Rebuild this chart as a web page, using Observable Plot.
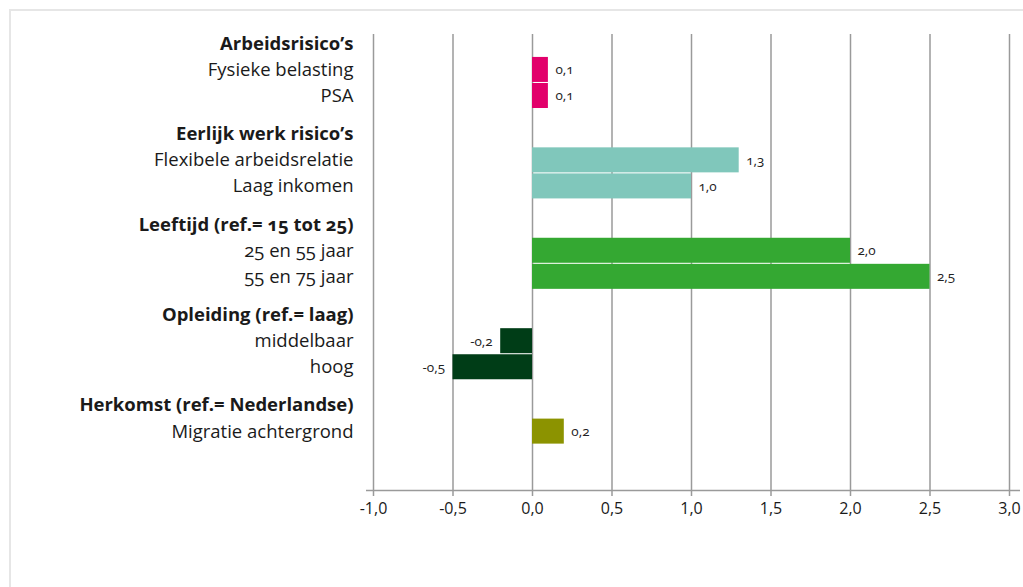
<!DOCTYPE html>
<html>
<head>
<meta charset="utf-8">
<script src="https://cdn.jsdelivr.net/npm/d3@7"></script>
<script src="https://cdn.jsdelivr.net/npm/@observablehq/plot@0.6"></script>
<style>
  html, body { margin: 0; padding: 0; background: #fff; }
  #frame { position: absolute; left: 9px; top: 9px; width: 1014px; height: 578px;
           border-top: 2px solid #e6e6e6; border-left: 2px solid #e6e6e6; box-sizing: border-box; }
  #chart { position: absolute; left: 0; top: 0; }
  svg { font-family: "Open Sans", sans-serif; font-variant-numeric: oldstyle-nums; }
</style>
</head>
<body>
<div id="frame"></div>
<div id="chart"></div>
<script>
const groups = ["Arbeidsrisico’s", "Eerlijk werk risico’s", "Leeftijd (ref.= 15 tot 25)", "Opleiding (ref.= laag)", "Herkomst (ref.= Nederlandse)"];
const groupColors = ["#e2006b", "#80c7bb", "#34a832", "#003d17", "#8c9300"];
const items = ["Fysieke belasting", "PSA", "Flexibele arbeidsrelatie", "Laag inkomen", "25 en 55 jaar", "55 en 75 jaar", "middelbaar", "hoog", "Migratie achtergrond"];
const itemGroup = [0, 0, 1, 1, 2, 2, 3, 3, 4];
const values = [0.1, 0.1, 1.3, 1.0, 2.0, 2.5, -0.2, -0.5, 0.2];
const xTicks = [-1, -0.5, 0, 0.5, 1, 1.5, 2, 2.5, 3];

// build rows (headers + items) with an extra gap before each group
const groupGap = 0.47;
const rows = [];
let r = 0;
groups.forEach((g, gi) => {
  rows.push({label: g, header: true, pos: r + gi * groupGap});
  r++;
  items.forEach((it, i) => {
    if (itemGroup[i] === gi) {
      rows.push({label: it, header: false, pos: r + gi * groupGap, value: values[i], color: groupColors[gi]});
      r++;
    }
  });
});
const bars = rows.filter(d => !d.header);
const fmt = v => v.toFixed(1).replace(".", ",").replace("−", "-");

const chart = Plot.plot({
  width: 1023,
  height: 587,
  marginLeft: 373,
  marginRight: 14,
  marginTop: 34,
  marginBottom: 97,
  x: {domain: [-1, 3]},
  y: {domain: [-0.36, 17.14], range: [34, 490], axis: null},
  marks: [
    Plot.ruleX(xTicks, {stroke: "#9a9a9a", strokeWidth: 1.5}),
    Plot.rectX(bars, {x1: 0, x2: "value", y1: d => d.pos - 0.48, y2: d => d.pos + 0.48, fill: "color"}),
    Plot.text(bars.filter(d => d.value >= 0), {x: "value", y: "pos", text: d => fmt(d.value),
      textAnchor: "start", fontSize: 13.5, fill: "#222", dx: 7}),
    Plot.text(bars.filter(d => d.value < 0), {x: "value", y: "pos", text: d => fmt(d.value),
      textAnchor: "end", fontSize: 13.5, fill: "#222", dx: -8}),
    Plot.text(rows.filter(d => !d.header), {y: "pos", text: "label", frameAnchor: "left", dx: -20, textAnchor: "end",
      fontSize: 18.5, fill: "#1a1a1a"}),
    Plot.text(rows.filter(d => d.header), {y: "pos", text: "label", frameAnchor: "left", dx: -20, textAnchor: "end",
      fontSize: 18.5, fill: "#1a1a1a", fontWeight: "bold"}),
    Plot.ruleY([17.14], {stroke: "#9a9a9a", strokeWidth: 1.5, insetLeft: -7, insetRight: -11}),
    Plot.axisX({ticks: xTicks, tickFormat: fmt, tickSize: 6, tickPadding: 6, stroke: "#9a9a9a", strokeWidth: 1.5,
      fill: "#1a1a1a", fontSize: 16, label: null})
  ]
});
document.getElementById("chart").appendChild(chart);
</script>
</body>
</html>
